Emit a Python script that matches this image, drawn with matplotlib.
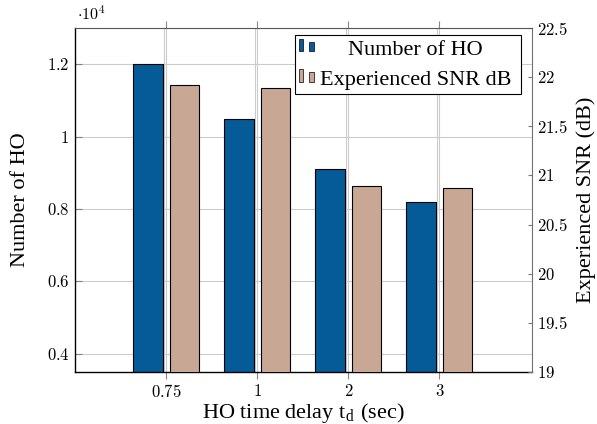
import numpy as np
import matplotlib
matplotlib.use('Agg')
import matplotlib.pyplot as plt
from matplotlib.patches import Rectangle
from matplotlib.text import Text
from matplotlib.legend_handler import HandlerBase
from matplotlib.ticker import FuncFormatter, FixedLocator

plt.rcParams['font.family'] = ['Liberation Serif', 'DejaVu Serif']
plt.rcParams['mathtext.fontset'] = 'cm'

# data
delays = ['0.75', '1', '2', '3']
num_ho = [12000, 10500, 9100, 8200]
snr_db = [21.92, 21.89, 20.89, 20.87]

blue = '#045b97'
tan = '#c8a794'
grid_c = '#cccccc'


class BarPairHandler(HandlerBase):
    # pgfplots style ybar legend image: two small bars, text centred in box
    def create_artists(self, legend, orig_handle, xdescent, ydescent,
                       width, height, fontsize, trans):
        x0 = -xdescent
        fc = orig_handle.get_facecolor()
        r1 = Rectangle((x0 + 0.2, 2.6), 2.9, 8.7, facecolor=fc,
                       edgecolor='black', lw=0.5, transform=trans)
        r2 = Rectangle((x0 + 7.4, 2.6), 3.3, 6.8, facecolor=fc,
                       edgecolor='black', lw=0.5, transform=trans)
        t = Text(x0 + 84, 0, orig_handle.get_label(), ha='center',
                 va='baseline', fontsize=fontsize,
                 family=['Liberation Serif'], transform=trans)
        return [r1, r2, t]


fig = plt.figure(figsize=(5.97, 4.24), dpi=100)
W, H = 597.0, 424.0
rect = [75 / W, (H - 371.7) / H, 456.7 / W, 343.4 / H]

x = np.arange(len(delays))
xl = (-1.003, 4.015)

# second set of vertical grid lines (slightly shifted, as in the original)
ax_bg = fig.add_axes(rect, zorder=0)
ax_bg.set_xlim(xl[0] + 0.025, xl[1] + 0.025)
ax_bg.set_xticks(x)
ax_bg.grid(axis='x', color=grid_c, lw=0.8)
ax_bg.tick_params(length=0, labelbottom=False, labelleft=False)
for s in ax_bg.spines.values():
    s.set_visible(False)

ax = fig.add_axes(rect, zorder=1)
ax.patch.set_visible(False)
ax.set_axisbelow(True)
ax.bar(x - 0.2, np.array(num_ho) / 1e4, width=0.323, color=blue,
       edgecolor='black', linewidth=0.8)
ax.set_xlim(*xl)
ax.set_ylim(0.35, 1.3)
ax.set_xticks(x)
ax.set_xticklabels(['$%s$' % d for d in delays])
ax.yaxis.set_major_locator(FixedLocator([0.4, 0.6, 0.8, 1.0, 1.2]))
ax.yaxis.set_major_formatter(FuncFormatter(lambda v, p: '$%g$' % round(v, 2)))
ax.grid(color=grid_c, lw=0.8)
ax.tick_params(axis='x', direction='out', length=5, width=0.8, color='#888888',
               top=True, labelsize=12, pad=4)
ax.tick_params(axis='y', direction='in', length=5, width=0.8, color='#808080',
               labelsize=12, pad=4)
ax.spines['top'].set_visible(False)
ax.spines['right'].set_visible(False)
ax.spines['left'].set_linewidth(1.0)
ax.spines['bottom'].set_linewidth(1.0)
ax.set_xlabel('HO time delay t$_{\\mathregular{d}}$ (sec)', fontsize=16,
              labelpad=0)
ax.set_ylabel('Number of HO', fontsize=16, labelpad=12)
ax.text(0.005, 1.012, r'$\cdot 10^4$', transform=ax.transAxes, fontsize=11.5,
        ha='left', va='bottom')

ax2 = ax.twinx()
ax2.bar(x + 0.2, snr_db, width=0.323, color=tan, edgecolor='black',
        linewidth=0.8)
ax2.set_ylim(19, 22.5)
ax2.set_yticks(np.arange(19, 22.51, 0.5))
ax2.yaxis.set_major_formatter(FuncFormatter(lambda v, p: '$%g$' % v))
ax2.tick_params(axis='y', direction='in', length=3, width=0.8, color='#777777',
                labelsize=12, pad=4)
ax2.spines['left'].set_visible(False)
ax2.spines['bottom'].set_visible(False)
ax2.spines['top'].set_color('#555555')
ax2.spines['right'].set_color('#707070')
ax2.set_ylabel('Experienced SNR (dB)', fontsize=16, labelpad=6)

h1 = Rectangle((0, 0), 1, 1, facecolor=blue, label='Number of HO')
h2 = Rectangle((0, 0), 1, 1, facecolor=tan, label='Experienced SNR dB')
leg = ax2.legend([h1, h2], ['', ''], handler_map={Rectangle: BarPairHandler()},
                 loc='upper right', bbox_to_anchor=(1 - 10.7 / 456.7, 1 - 6.7 / 343.4),
                 borderaxespad=0, fontsize=16, handlelength=9.81,
                 handletextpad=0, borderpad=0.18, labelspacing=0.45,
                 fancybox=False, framealpha=1, edgecolor='black')
leg.get_frame().set_linewidth(0.8)

fig.savefig('out.png', dpi=100)
